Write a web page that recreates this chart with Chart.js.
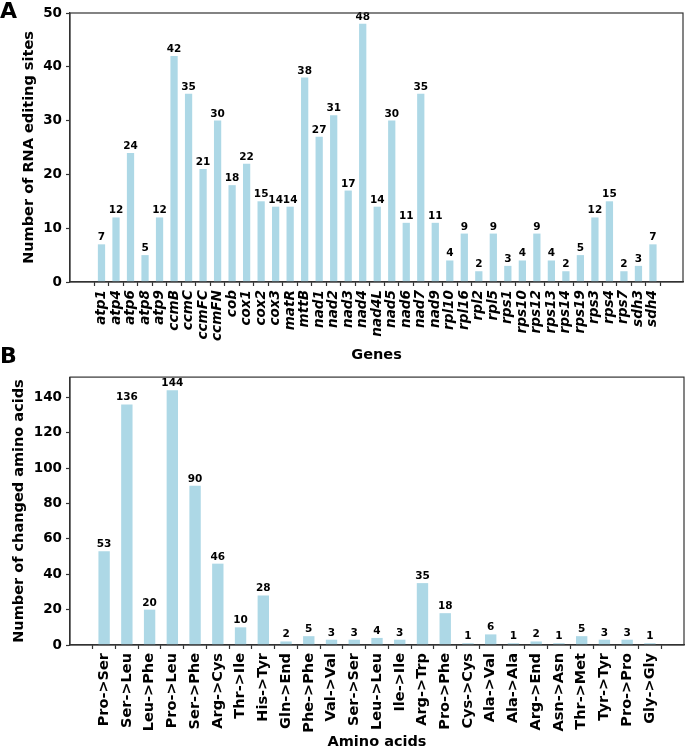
<!DOCTYPE html>
<html>
<head>
<meta charset="utf-8">
<script src="https://cdn.jsdelivr.net/npm/chart.js@4.4.0/dist/chart.umd.min.js"></script>
<style>
  html, body { margin: 0; padding: 0; background: #fff; }
  #wrap { position: relative; width: 685px; height: 751px; overflow: hidden; }
  canvas { position: absolute; left: 0; }
  .panel { position: absolute; left: 0; font-family: "DejaVu Sans", sans-serif; font-weight: bold; font-size: 22px; line-height: 22px; color: #000; }
</style>
</head>
<body>
<div id="wrap">
  <canvas id="cA" width="685" height="365" style="top:0px"></canvas>
  <canvas id="cB" width="685" height="386" style="top:365px"></canvas>
  <div class="panel" style="top:0px">A</div>
  <div class="panel" style="top:345px">B</div>
</div>
<script>
const genes = ["atp1","atp4","atp6","atp8","atp9","ccmB","ccmC","ccmFC","ccmFN","cob","cox1","cox2","cox3","matR","mttB","nad1","nad2","nad3","nad4","nad4L","nad5","nad6","nad7","nad9","rpl10","rpl16","rpl2","rpl5","rps1","rps10","rps12","rps13","rps14","rps19","rps3","rps4","rps7","sdh3","sdh4"];
const editingSites = [7,12,24,5,12,42,35,21,30,18,22,15,14,14,38,27,31,17,48,14,30,11,35,11,4,9,2,9,3,4,9,4,2,5,12,15,2,3,7];
const yTicksA = [0,10,20,30,40,50];

const aminoAcids = ["Pro->Ser","Ser->Leu","Leu->Phe","Pro->Leu","Ser->Phe","Arg->Cys","Thr->Ile","His->Tyr","Gln->End","Phe->Phe","Val->Val","Ser->Ser","Leu->Leu","Ile->Ile","Arg->Trp","Pro->Phe","Cys->Cys","Ala->Val","Ala->Ala","Arg->End","Asn->Asn","Thr->Met","Tyr->Tyr","Pro->Pro","Gly->Gly"];
const changedAA = [53,136,20,144,90,46,10,28,2,5,3,3,4,3,35,18,1,6,1,2,1,5,3,3,1];
const yTicksB = [0,20,40,60,80,100,120,140];

const FONT = "DejaVu Sans";
const AXC = "#333";

const valueLabels = {
  id: 'valueLabels',
  afterDatasetsDraw(chart) {
    const ctx = chart.ctx;
    const meta = chart.getDatasetMeta(0);
    const data = chart.data.datasets[0].data;
    ctx.save();
    ctx.font = "bold 10.5px '" + FONT + "'";
    ctx.fillStyle = "#000";
    ctx.textAlign = "center";
    ctx.textBaseline = "bottom";
    meta.data.forEach((el, i) => {
      ctx.fillText(String(data[i].y), el.x, el.y - 1.5);
    });
    ctx.restore();
  }
};
const frame = {
  id: 'frame',
  afterDraw(chart) {
    const a = chart.chartArea, ctx = chart.ctx;
    ctx.save();
    ctx.strokeStyle = AXC; ctx.lineWidth = 1.2;
    ctx.strokeRect(a.left, a.top, a.right - a.left, a.bottom - a.top);
    ctx.restore();
  }
};

function makeChart(id, cats, vals, cfg) {
  const pts = vals.map((v, i) => ({x: i, y: v}));
  return new Chart(document.getElementById(id), {
    type: 'bar',
    data: { datasets: [{ data: pts, backgroundColor: '#ADD8E6', borderWidth: 0, categoryPercentage: 1.0, barPercentage: 0.5 }] },
    plugins: [valueLabels, frame],
    options: {
      responsive: false, animation: false, devicePixelRatio: 1,
      layout: { padding: cfg.padding },
      plugins: { legend: { display: false }, tooltip: { enabled: false } },
      scales: {
        x: {
          type: 'linear', min: cfg.xmin, max: cfg.xmax, offset: false,
          afterBuildTicks: (ax) => { ax.ticks = cats.map((_, i) => ({ value: i })); },
          afterFit: (ax) => { ax.height = cfg.xHeight; },
          ticks: { autoSkip: false, minRotation: 90, maxRotation: 90, padding: 4, color: '#000',
                   font: { family: FONT, size: cfg.xFont, weight: 'bold', style: cfg.xStyle },
                   callback: (v) => cats[v] },
          grid: { drawOnChartArea: false, drawTicks: true, tickLength: 4, color: AXC, tickWidth: 1.2 },
          border: { color: AXC, width: 1.2 },
          title: { display: true, text: cfg.xTitle, color: '#000', padding: { top: 0, bottom: cfg.xTitlePad },
                   font: { family: FONT, size: 14.5, weight: 'bold' } }
        },
        y: {
          min: 0, max: cfg.ymax,
          afterBuildTicks: (ax) => { ax.ticks = cfg.yTicks.map(v => ({ value: v })); },
          afterFit: (ax) => { ax.width = 70 - cfg.padding.left; },
          ticks: { padding: 4, color: '#000', font: { family: FONT, size: 13.5, weight: 'bold' } },
          grid: { drawOnChartArea: false, drawTicks: true, tickLength: 4, color: AXC, tickWidth: 1.2 },
          border: { color: AXC, width: 1.2 },
          title: { display: true, text: cfg.yTitle, color: '#000', padding: { top: cfg.yTitlePad, bottom: 0 },
                   font: { family: FONT, size: 14.5, weight: 'bold' } }
        }
      }
    }
  });
}

makeChart('cA', genes, editingSites, {
  padding: { left: 0, right: 2, top: 13, bottom: 0 },
  xmin: -2.17, xmax: 40.07, ymax: 50, yTicks: yTicksA,
  xHeight: 83, xFont: 13.6, xStyle: 'italic', xTitle: 'Genes', xTitlePad: 1,
  yTitle: 'Number of RNA editing sites', yTitlePad: 21
});
makeChart('cB', aminoAcids, changedAA, {
  padding: { left: 0, right: 1, top: 9, bottom: 0 },
  xmin: -1.5, xmax: 25.5, ymax: 151.5, yTicks: yTicksB,
  xHeight: 106, xFont: 14.5, xStyle: 'normal', xTitle: 'Amino acids', xTitlePad: 0,
  yTitle: 'Number of changed amino acids', yTitlePad: 11
});
</script>
</body>
</html>
